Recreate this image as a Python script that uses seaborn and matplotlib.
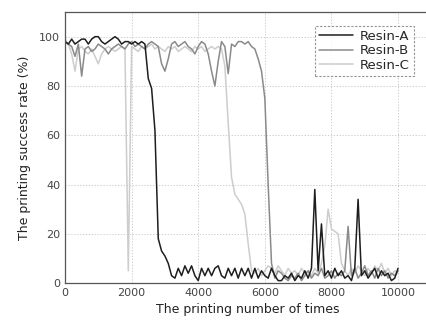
import matplotlib
matplotlib.use("Agg")
import matplotlib.pyplot as plt
import seaborn as sns
import pandas as pd
from matplotlib.ticker import MultipleLocator

# printing number of times (every 100 prints)
prints = list(range(0, 10001, 100))

resin_a = [98, 97, 99, 97, 98, 99, 99, 97, 99, 100,
           100, 98, 97, 98, 99, 100, 99, 97, 98, 98,
           97, 98, 97, 98, 97, 83, 79, 62, 18, 13,
           11, 8, 3, 2, 6, 3, 7, 4, 7, 3,
           1, 6, 3, 6, 3, 6, 7, 3, 2, 6,
           3, 6, 2, 6, 3, 6, 2, 6, 2, 5,
           3, 2, 6, 3, 1, 1, 3, 2, 4, 1,
           3, 2, 5, 2, 6, 38, 5, 24, 3, 5,
           2, 6, 3, 5, 2, 3, 1, 6, 34, 3,
           5, 2, 4, 6, 2, 5, 3, 4, 1, 2,
           6]

resin_b = [98, 97, 96, 92, 97, 84, 95, 96, 94, 95,
           97, 96, 95, 93, 95, 96, 97, 96, 95, 97,
           98, 96, 97, 96, 95, 97, 98, 97, 96, 89,
           86, 91, 97, 98, 96, 97, 98, 96, 95, 93,
           96, 98, 97, 93, 86, 80, 90, 98, 96, 85,
           97, 96, 98, 98, 97, 98, 96, 95, 91, 86,
           75, 40, 8, 2, 5, 4, 2, 1, 3, 2,
           4, 1, 3, 5, 2, 4, 3, 6, 2, 3,
           5, 2, 4, 3, 5, 23, 3, 6, 2, 4,
           7, 3, 5, 2, 6, 3, 5, 2, 4, 3,
           5]

resin_c = [99, 97, 93, 86, 95, 96, 94, 93, 95, 92,
           89, 93, 95, 96, 95, 94, 95, 96, 95, 5,
           96, 95, 94, 96, 95, 96, 97, 95, 96, 95,
           94, 96, 95, 96, 94, 95, 96, 95, 94, 96,
           95, 96, 94, 95, 96, 95, 96, 95, 88, 65,
           43, 36, 34, 32, 28, 16, 5, 4, 6, 3,
           5, 7, 6, 4, 7, 5, 3, 6, 4, 5,
           3, 6, 4, 5, 3, 6, 4, 8, 15, 30,
           22, 21, 20, 8, 5, 3, 6, 4, 7, 5,
           3, 6, 4, 7, 5, 8, 4, 6, 3, 5,
           4]

series_names = ["Resin-A", "Resin-B", "Resin-C"]
colors = ["#1e1e1e", "#8a8a8a", "#cdcdcd"]

df = pd.concat([
    pd.DataFrame({"prints": prints, "rate": vals, "resin": name})
    for name, vals in zip(series_names, [resin_a, resin_b, resin_c])
])

sns.set_style("white")
plt.rcParams["font.family"] = ["DejaVu Sans"]

fig = plt.figure(figsize=(4.26, 3.25), dpi=100)
ax = fig.add_axes([0.1526, 0.129, 0.86, 0.834])

sns.lineplot(data=df, x="prints", y="rate", hue="resin",
             palette=dict(zip(series_names, colors)),
             hue_order=series_names[::-1], linewidth=1.1, ax=ax, legend=False)

# legend in A, B, C order
handles = [plt.Line2D([], [], color=c, lw=1.1) for c in colors]
leg = ax.legend(handles, series_names, loc="upper left",
                bbox_to_anchor=(0.683, 0.948), fontsize=9.5,
                frameon=True, fancybox=False, handlelength=2.6,
                borderpad=0.3, labelspacing=0.1, handletextpad=0.5,
                borderaxespad=0)
leg.get_frame().set_edgecolor("#777777")
leg.get_frame().set_linestyle((0, (2, 1.5)))
leg.get_frame().set_linewidth(0.8)

ax.set_xlim(0, 11000)
ax.set_ylim(0, 110)
ax.xaxis.set_minor_locator(MultipleLocator(1000))
ax.yaxis.set_minor_locator(MultipleLocator(10))
ax.set_xticks([0, 2000, 4000, 6000, 8000, 10000])
ax.set_yticks([0, 20, 40, 60, 80, 100])
ax.tick_params(which="both", direction="in", colors="#444444", labelsize=8)
ax.tick_params(which="major", length=3)
ax.tick_params(which="minor", length=2)
ax.grid(True, which="major", linestyle=(0, (1.5, 2)), color="#c4c4c4", linewidth=0.6)

for s in ax.spines.values():
    s.set_color("#555555")
    s.set_linewidth(0.9)

ax.set_xlabel("The printing number of times", fontsize=9, color="#222222", labelpad=4)
ax.set_ylabel("The printing success rate (%)", fontsize=9, color="#222222", labelpad=6)

fig.savefig("out.png", dpi=100)
